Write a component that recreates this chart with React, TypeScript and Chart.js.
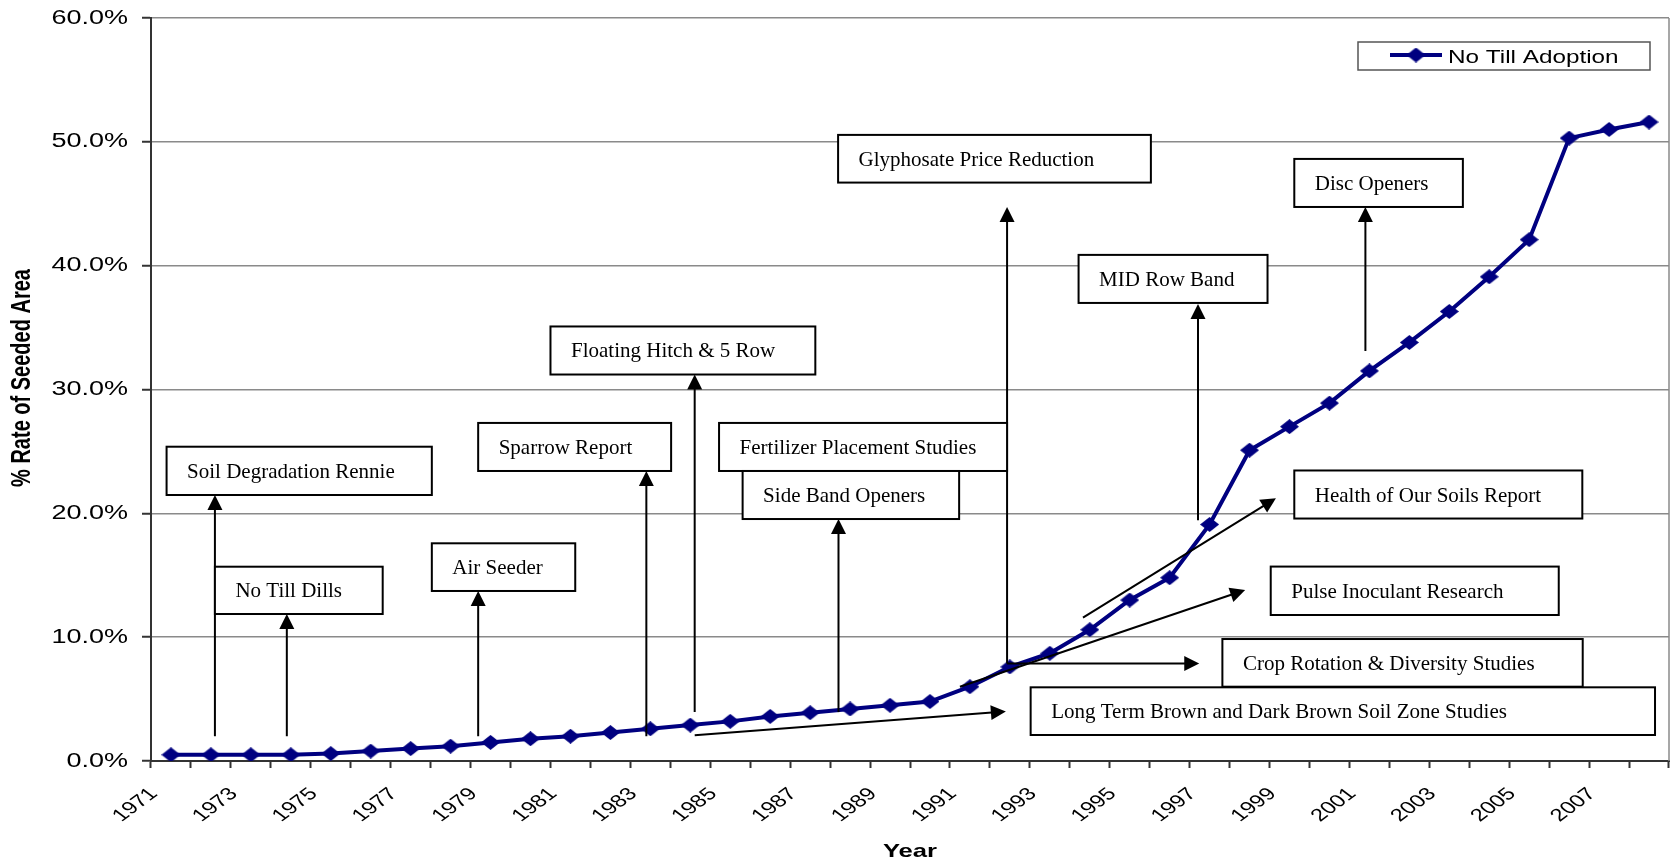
import React, { useEffect, useRef } from 'react';
import { Chart, registerables } from 'chart.js';

Chart.register(...registerables);

// Crop years (one category each) and the share of seeded area under no-till, in percent
const years = [
  '1971', '1972', '1973', '1974', '1975', '1976', '1977', '1978', '1979', '1980',
  '1981', '1982', '1983', '1984', '1985', '1986', '1987', '1988', '1989', '1990',
  '1991', '1992', '1993', '1994', '1995', '1996', '1997', '1998', '1999', '2000',
  '2001', '2002', '2003', '2004', '2005', '2006', '2007', '2008',
];
const noTillAdoption = [
  0.5, 0.5, 0.5, 0.5, 0.6, 0.8, 1.0, 1.2, 1.5, 1.8,
  2.0, 2.3, 2.6, 2.9, 3.2, 3.6, 3.9, 4.2, 4.5, 4.8,
  6.0, 7.6, 8.7, 10.6, 13.0, 14.8, 19.1, 25.1, 27.0, 28.9,
  31.5, 33.8, 36.3, 39.1, 42.1, 50.3, 51.0, 51.6,
];
const yTicks = [0, 10, 20, 30, 40, 50, 60];
const seriesName = 'No Till Adoption';
const xTitle = 'Year';
const yTitle = '% Rate of Seeded Area';

// Callout boxes, placed in chart units: x as (fractional) year, y as percent
const callouts = [
  { text: 'Soil Degradation Rennie', x0: 1970.89, x1: 1977.53, top: 25.38, bottom: 21.48 },
  { text: 'No Till Dills', x0: 1972.1, x1: 1976.3, top: 15.69, bottom: 11.87 },
  { text: 'Air Seeder', x0: 1977.53, x1: 1981.12, top: 17.58, bottom: 13.73 },
  { text: 'Sparrow Report', x0: 1978.69, x1: 1983.52, top: 27.3, bottom: 23.42 },
  { text: 'Floating Hitch & 5 Row', x0: 1980.5, x1: 1987.13, top: 35.09, bottom: 31.21 },
  { text: 'Fertilizer Placement Studies', x0: 1984.72, x1: 1991.93, top: 27.3, bottom: 23.42 },
  { text: 'Side Band Openers', x0: 1985.31, x1: 1990.73, top: 23.42, bottom: 19.54 },
  { text: 'Glyphosate Price Reduction', x0: 1987.7, x1: 1995.53, top: 50.56, bottom: 46.71 },
  { text: 'MID Row Band', x0: 1993.72, x1: 1998.45, top: 40.87, bottom: 36.99 },
  { text: 'Disc Openers', x0: 1999.12, x1: 2003.34, top: 48.62, bottom: 44.74 },
  { text: 'Health of Our Soils Report', x0: 1999.12, x1: 2006.33, top: 23.46, bottom: 19.58 },
  { text: 'Pulse Inoculant Research', x0: 1998.53, x1: 2005.74, top: 15.7, bottom: 11.79 },
  { text: 'Crop Rotation & Diversity Studies', x0: 1997.32, x1: 2006.34, top: 9.85, bottom: 6.0 },
  { text: 'Long Term Brown and Dark Brown Soil Zone Studies', x0: 1992.52, x1: 2008.15, top: 5.95, bottom: 2.1 },
];

// Arrows from (x0, y0) to the arrow tip at (x1, y1), in the same chart units
const arrows = [
  { x0: 1972.1, y0: 2.0, x1: 1972.1, y1: 21.48 },
  { x0: 1973.9, y0: 2.0, x1: 1973.9, y1: 11.87 },
  { x0: 1978.69, y0: 2.0, x1: 1978.69, y1: 13.73 },
  { x0: 1982.9, y0: 2.0, x1: 1982.9, y1: 23.42 },
  { x0: 1984.11, y0: 3.95, x1: 1984.11, y1: 31.21 },
  { x0: 1987.71, y0: 3.95, x1: 1987.71, y1: 19.54 },
  { x0: 1991.93, y0: 7.87, x1: 1991.93, y1: 44.74 },
  { x0: 1996.71, y0: 19.44, x1: 1996.71, y1: 36.91 },
  { x0: 2000.9, y0: 33.11, x1: 2000.9, y1: 44.74 },
  { x0: 1991.93, y0: 7.87, x1: 1996.74, y1: 7.87 },
  { x0: 1984.11, y0: 2.08, x1: 1991.9, y1: 4.0 },
  { x0: 1990.75, y0: 6.0, x1: 1997.89, y1: 13.81 },
  { x0: 1993.83, y0: 11.57, x1: 1998.66, y1: 21.22 },
];

const NAVY = '#000080';
const INK = '#000000';
const AXIS = '#333333';
const SERIF = '"Liberation Serif", "Times New Roman", serif';
const SANS = '"Liberation Sans", Arial, sans-serif';
// the chart's own lettering is set wide (horizontal stretch)
const WIDE = 1.35;

function makeDiamond(): HTMLCanvasElement {
  const c = document.createElement('canvas');
  const w = 19;
  const h = 15;
  c.width = w;
  c.height = h;
  const g = c.getContext('2d')!;
  g.fillStyle = NAVY;
  g.beginPath();
  g.moveTo(0, h / 2);
  g.lineTo(w / 2, 0);
  g.lineTo(w, h / 2);
  g.lineTo(w / 2, h);
  g.closePath();
  g.fill();
  return c;
}

function drawArrow(ctx: CanvasRenderingContext2D, ax: number, ay: number, bx: number, by: number) {
  const headLen = 15;
  const headHalf = 7.5;
  const dx = bx - ax;
  const dy = by - ay;
  const len = Math.hypot(dx, dy);
  const ux = dx / len;
  const uy = dy / len;
  const baseX = bx - ux * headLen;
  const baseY = by - uy * headLen;
  ctx.beginPath();
  ctx.moveTo(ax, ay);
  ctx.lineTo(baseX + ux, baseY + uy);
  ctx.stroke();
  ctx.beginPath();
  ctx.moveTo(bx, by);
  ctx.lineTo(baseX - uy * headHalf, baseY + ux * headHalf);
  ctx.lineTo(baseX + uy * headHalf, baseY - ux * headHalf);
  ctx.closePath();
  ctx.fill();
}

// wide text: (x, y) is the anchor, rot is applied before the horizontal stretch
function wideText(ctx: CanvasRenderingContext2D, text: string, x: number, y: number, rot = 0) {
  ctx.save();
  ctx.translate(x, y);
  ctx.scale(WIDE, 1);
  if (rot) ctx.rotate(rot);
  ctx.fillText(text, 0, 0);
  ctx.restore();
}

const calloutPlugin = {
  id: 'callouts',
  afterDatasetsDraw(chart: any) {
    const { ctx, scales } = chart;
    const xs = scales.x;
    const ys = scales.y;
    const px = (year: number) => xs.getPixelForValue(year - Number(years[0]));
    const py = (v: number) => ys.getPixelForValue(v);
    ctx.save();
    ctx.strokeStyle = INK;
    ctx.fillStyle = INK;
    ctx.lineWidth = 2;
    arrows.forEach((a) => drawArrow(ctx, px(a.x0), py(a.y0), px(a.x1), py(a.y1)));
    ctx.font = `21px ${SERIF}`;
    ctx.textAlign = 'left';
    ctx.textBaseline = 'alphabetic';
    callouts.forEach((c) => {
      const l = px(c.x0);
      const r = px(c.x1);
      const t = py(c.top);
      const b = py(c.bottom);
      ctx.fillStyle = '#ffffff';
      ctx.fillRect(l, t, r - l, b - t);
      ctx.strokeStyle = INK;
      ctx.lineWidth = 2;
      ctx.strokeRect(l, t, r - l, b - t);
      ctx.fillStyle = INK;
      ctx.fillText(c.text, l + 20.5, (t + b) / 2 + 7);
    });
    ctx.restore();
  },
  afterDraw(chart: any) {
    const { ctx, chartArea, scales } = chart;
    const xs = scales.x;
    const ys = scales.y;
    ctx.save();
    // plot-area frame on the right
    ctx.strokeStyle = '#8a8a8a';
    ctx.lineWidth = 1.5;
    ctx.beginPath();
    ctx.moveTo(chartArea.right, chartArea.top);
    ctx.lineTo(chartArea.right, chartArea.bottom);
    ctx.stroke();

    ctx.fillStyle = INK;

    // y tick labels
    ctx.font = `20px ${SANS}`;
    ctx.textAlign = 'right';
    ctx.textBaseline = 'middle';
    ys.ticks.forEach((t: any) => {
      const y = ys.getPixelForValue(t.value);
      ctx.save();
      ctx.translate(ys.right - 23, y);
      ctx.scale(WIDE, 1);
      ctx.fillText(Number(t.value).toFixed(1) + '%', 0, 0);
      ctx.restore();
    });

    // x tick labels, every second year, slanted
    ctx.font = `17.5px ${SANS}`;
    ctx.textAlign = 'center';
    ctx.textBaseline = 'middle';
    years.forEach((yr, i) => {
      if (i % 2 !== 0) return;
      const x = xs.getPixelForTick(i);
      wideText(ctx, yr, x - 35.5, xs.top + 44, -Math.PI / 4);
    });

    // axis titles
    ctx.textAlign = 'center';
    ctx.textBaseline = 'middle';
    ctx.font = `bold 19px ${SANS}`;
    wideText(ctx, xTitle, (chartArea.left + chartArea.right) / 2, 852);
    ctx.font = `bold 20px ${SANS}`;
    wideText(ctx, yTitle, 23, 378, -Math.PI / 2);

    // legend
    const lx = chartArea.right - 311;
    const ly = chartArea.top + 24;
    ctx.fillStyle = '#ffffff';
    ctx.fillRect(lx, ly, 292, 28);
    ctx.strokeStyle = '#555555';
    ctx.lineWidth = 1.5;
    ctx.strokeRect(lx, ly, 292, 28);
    ctx.strokeStyle = NAVY;
    ctx.lineWidth = 4;
    ctx.beginPath();
    ctx.moveTo(lx + 32, ly + 13);
    ctx.lineTo(lx + 84, ly + 13);
    ctx.stroke();
    const d = chart.data.datasets[0].pointStyle as HTMLCanvasElement;
    if (d && d.width) {
      ctx.drawImage(d, lx + 58 - d.width / 2, ly + 13 - d.height / 2);
    }
    ctx.fillStyle = INK;
    ctx.textAlign = 'left';
    ctx.textBaseline = 'alphabetic';
    ctx.font = `18px ${SANS}`;
    wideText(ctx, seriesName, lx + 90, ly + 20.5);
    ctx.restore();
  },
};

export default function App() {
  const canvasRef = useRef<HTMLCanvasElement | null>(null);

  useEffect(() => {
    const canvas = canvasRef.current;
    if (!canvas) return;
    const diamond = makeDiamond();
    const chart: any = new Chart(canvas, {
      type: 'line',
      data: {
        labels: years,
        datasets: [
          {
            label: seriesName,
            data: noTillAdoption,
            borderColor: NAVY,
            backgroundColor: NAVY,
            borderWidth: 4,
            pointStyle: diamond,
            pointRadius: 8,
            tension: 0,
            fill: false,
          },
        ],
      },
      options: {
        responsive: false,
        animation: false,
        devicePixelRatio: 1,
        events: [],
        layout: { autoPadding: false, padding: { left: 0, right: 4, top: 18, bottom: 0 } },
        plugins: {
          legend: { display: false },
          tooltip: { enabled: false },
        },
        scales: {
          x: {
            type: 'category',
            offset: true,
            grid: {
              offset: true,
              drawOnChartArea: false,
              drawTicks: true,
              tickLength: 7,
              tickColor: AXIS,
              tickWidth: 2,
            },
            border: { display: true, color: AXIS, width: 2 },
            ticks: { display: false, autoSkip: false },
            afterFit: (s: any) => {
              s.height = 104;
              s.paddingLeft = 0;
              s.paddingRight = 0;
            },
          },
          y: {
            min: yTicks[0],
            max: yTicks[yTicks.length - 1],
            afterBuildTicks: (s: any) => {
              s.ticks = yTicks.map((v) => ({ value: v }));
            },
            grid: {
              color: '#8a8a8a',
              lineWidth: 1.5,
              drawTicks: true,
              tickLength: 9,
              tickColor: AXIS,
              tickWidth: 2,
            },
            border: { color: AXIS, width: 2 },
            ticks: { display: false },
            afterFit: (s: any) => {
              s.width = 151;
              s.paddingTop = 0;
              s.paddingBottom = 0;
            },
          },
        },
      },
      plugins: [calloutPlugin],
    } as any);
    return () => chart.destroy();
  }, []);

  return (
    <div style={{ position: 'fixed', left: 0, top: 0, width: 1673, height: 865, background: '#ffffff' }}>
      <canvas ref={canvasRef} width={1673} height={865} style={{ display: 'block' }} />
    </div>
  );
}
